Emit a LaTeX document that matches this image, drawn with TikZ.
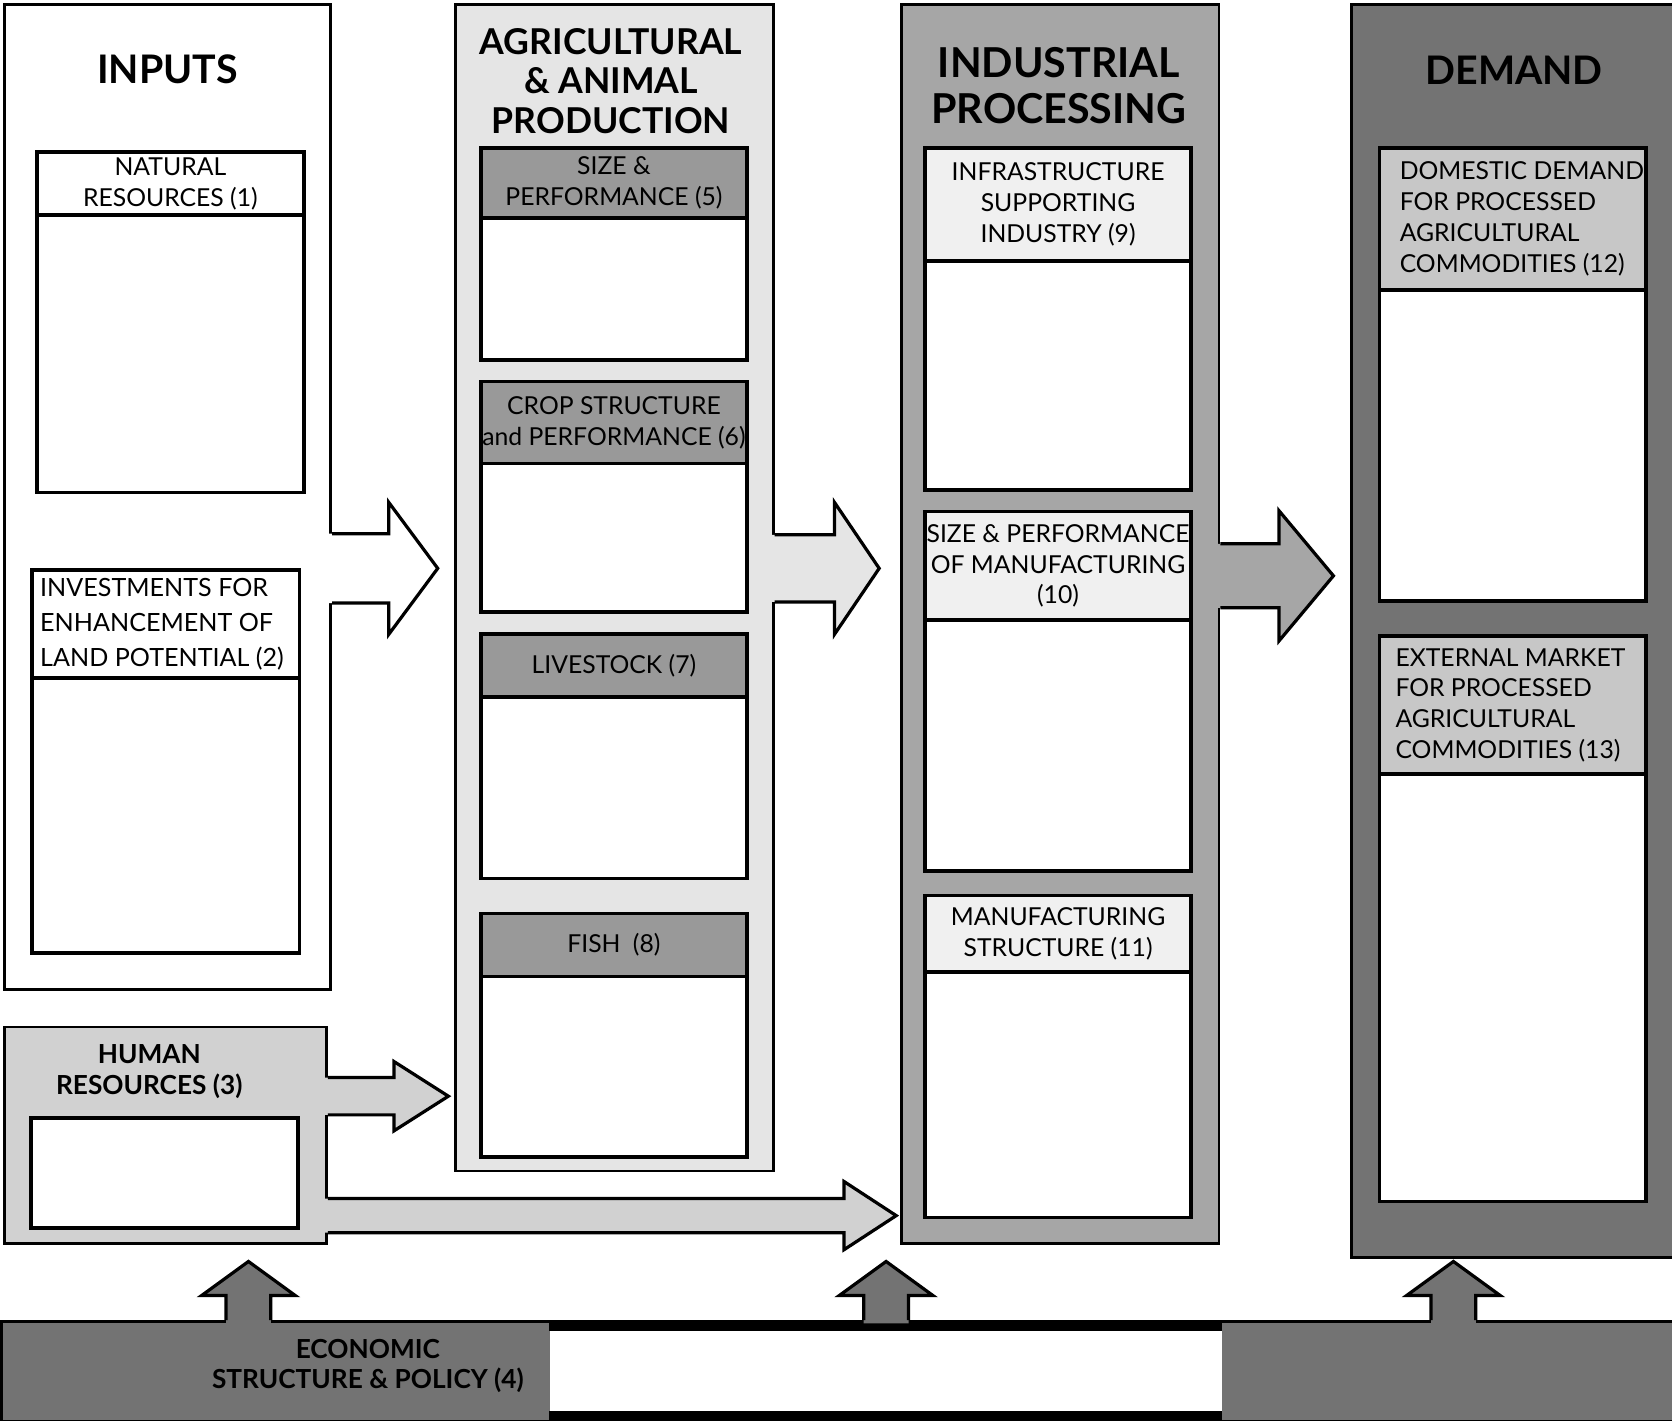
\documentclass[tikz,border=0pt]{standalone}
\usepackage{fontspec}
\setmainfont{Lato}
\newcommand\subfont{\fontsize{6.6}{8.2}\selectfont}
\newcommand\ttlfont{\bfseries\fontsize{10.5}{10.5}\selectfont}
\newcommand\flowarrow[6]{%
  \fill[#1] (#2) ++(-3,-#4) -- ++({#3-#6+3},0) -- ++(0,{#4-#5}) -- ++(#6,#5) -- ++(-#6,#5) -- ++(0,{#4-#5}) -- ++({-#3+#6-3},0) -- cycle;
  \draw[line width=0.3mm, line join=miter] (#2) ++(0,-#4) -- ++({#3-#6},0) -- ++(0,{#4-#5}) -- ++(#6,#5) -- ++(-#6,#5) -- ++(0,{#4-#5}) -- ++({-#3+#6},0);
}
\newcommand\riserarrow[1]{%
  \fill[black!55] (#1) ++(-21,3) -- ++(0,-26) -- ++(-23,0) -- ++(44,-32) -- ++(44,32) -- ++(-23,0) -- ++(0,26) -- cycle;
  \draw[line width=0.3mm, line join=miter] (#1) ++(-21,0) -- ++(0,-23) -- ++(-23,0) -- ++(44,-32) -- ++(44,32) -- ++(-23,0) -- ++(0,23);
}
\begin{document}
\begin{tikzpicture}[x=0.1mm, y=-0.1mm,
    col/.style={draw, line width=0.25mm, anchor=north west, inner sep=0pt},
    sub/.style={draw, line width=0.35mm, fill=white, anchor=north west, inner sep=0pt, minimum width=25mm},
    hdr/.style={sub, align=center, font=\subfont},
    lefttxt/.style={anchor=west, align=left, inner sep=0pt, font=\subfont},
    ttl/.style={align=center, font=\ttlfont}]
    \useasboundingbox (0,0) rectangle (1568,1332);

    \node[col, fill=white, minimum width=30.6mm, minimum height=92.4mm] (inputs) at (3,3) {};
    \node[col, fill=black!10, minimum width=29.8mm, minimum height=109.4mm] (agri) at (426,3) {};
    \node[col, fill=black!35, minimum width=29.8mm, minimum height=116.2mm] (ind) at (844,3) {};
    \node[col, fill=black!55, minimum width=30.2mm, minimum height=117.5mm] (dem) at (1266,3) {};
    \node[col, fill=black!18, minimum width=30.2mm, minimum height=20.3mm] (hr) at (3,962) {};

    \node[ttl] (inputsT) at (157,65) {INPUTS};
    \node[ttl, font=\bfseries\fontsize{9.5}{10.5}\selectfont] (agriT) at (573,76) {AGRICULTURAL\\\& ANIMAL\\PRODUCTION};
    \node[ttl, font=\bfseries\fontsize{11}{12.2}\selectfont] (indT) at (993,80) {INDUSTRIAL\\PROCESSING};
    \node[ttl] (demT) at (1420,66) {DEMAND};
    \node[ttl, font=\bfseries\fontsize{7}{8.2}\selectfont] (hrT) at (140,1005) {HUMAN\\RESOURCES (3)};

    \node[sub, minimum height=31.9mm] (nat) at (33,141) {};
    \node[hdr, minimum height=5.9mm] (natH) at (nat.north west) {NATURAL\\RESOURCES (1)};
    \node[sub, minimum width=25.1mm, minimum height=35.9mm] (inv) at (28,533) {};
    \node[hdr, minimum width=25.1mm, minimum height=10.1mm] (invH) at (inv.north west) {};
    \node[lefttxt, font=\fontsize{6.7}{9.3}\selectfont] (invT) at ([xshift=0.9mm]invH.west) {INVESTMENTS FOR\\ENHANCEMENT OF\\LAND POTENTIAL (2)};
    \node[sub, minimum width=25.1mm, minimum height=10.3mm] (hrB) at (27,1047) {};

    \node[sub, minimum height=19.9mm] (s5) at (449,137) {};
    \node[hdr, fill=black!40, minimum height=6.6mm] (s5H) at (s5.north west) {SIZE \&\\PERFORMANCE (5)};
    \node[sub, minimum height=21.6mm] (s6) at (449,356) {};
    \node[hdr, fill=black!40, minimum height=7.7mm] (s6H) at (s6.north west) {CROP STRUCTURE\\and PERFORMANCE (6)};
    \node[sub, minimum height=22.9mm] (s7) at (449,593) {};
    \node[hdr, fill=black!40, minimum height=5.9mm] (s7H) at (s7.north west) {LIVESTOCK (7)};
    \node[sub, minimum height=22.8mm] (s8) at (449,855) {};
    \node[hdr, fill=black!40, minimum height=5.9mm] (s8H) at (s8.north west) {FISH\enspace(8)};

    \node[sub, minimum width=24.9mm, minimum height=32.1mm] (s9) at (866,137) {};
    \node[hdr, fill=black!6, minimum width=24.9mm, minimum height=10.6mm] (s9H) at (s9.north west) {INFRASTRUCTURE\\SUPPORTING\\INDUSTRY (9)};
    \node[sub, minimum width=24.9mm, minimum height=33.7mm] (s10) at (866,478) {};
    \node[hdr, fill=black!6, minimum width=24.9mm, minimum height=10.2mm] (s10H) at (s10.north west) {SIZE \& PERFORMANCE\\OF MANUFACTURING\\(10)};
    \node[sub, minimum width=24.9mm, minimum height=30.2mm] (s11) at (866,838) {};
    \node[hdr, fill=black!6, minimum width=24.9mm, minimum height=7.2mm] (s11H) at (s11.north west) {MANUFACTURING\\STRUCTURE (11)};

    \node[sub, minimum height=42.5mm] (s12) at (1292,137) {};
    \node[hdr, fill=black!22, minimum height=13.3mm] (s12H) at (s12.north west) {};
    \node[lefttxt] (s12T) at ([xshift=2mm]s12H.west) {DOMESTIC DEMAND\\FOR PROCESSED\\AGRICULTURAL\\COMMODITIES (12)};
    \node[sub, minimum height=53.0mm] (s13) at (1292,595) {};
    \node[hdr, fill=black!22, minimum height=12.9mm] (s13H) at (s13.north west) {};
    \node[lefttxt] (s13T) at ([xshift=1.6mm]s13H.west) {EXTERNAL MARKET\\FOR PROCESSED\\AGRICULTURAL\\COMMODITIES (13)};

    \node[col, fill=black!55, minimum width=156.8mm, minimum height=9.4mm] (bar) at (0,1238) {};
    \node[anchor=north west, fill=white, inner sep=0pt, minimum width=63mm, minimum height=9.4mm] (policy) at (515,1238) {};
    \draw[line width=1mm] ([yshift=-0.5mm]policy.north west) -- ([yshift=-0.5mm]policy.north east);
    \draw[line width=1mm] ([yshift=0.5mm]policy.south west) -- ([yshift=0.5mm]policy.south east);
    \node[ttl, font=\bfseries\fontsize{7}{8.2}\selectfont] (barT) at (345,1281) {ECONOMIC\\STRUCTURE \& POLICY (4)};

    \flowarrow{white}{inputs.east |- 0,533}{99}{32.5}{62}{46}
    \flowarrow{black!10}{agri.east |- 0,533}{98}{31.5}{62}{42}
    \flowarrow{black!35}{ind.east |- 0,540}{106}{30}{61}{51}
    \flowarrow{black!18}{hr.east |- 0,1028}{113}{17.5}{32.5}{51}
    \flowarrow{black!18}{hr.east |- 0,1140}{533}{16}{32}{49}

    \riserarrow{233,0 |- bar.north}
    \riserarrow{831,0 |- bar.north}
    \riserarrow{1363,0 |- bar.north}
\end{tikzpicture}
\end{document}
